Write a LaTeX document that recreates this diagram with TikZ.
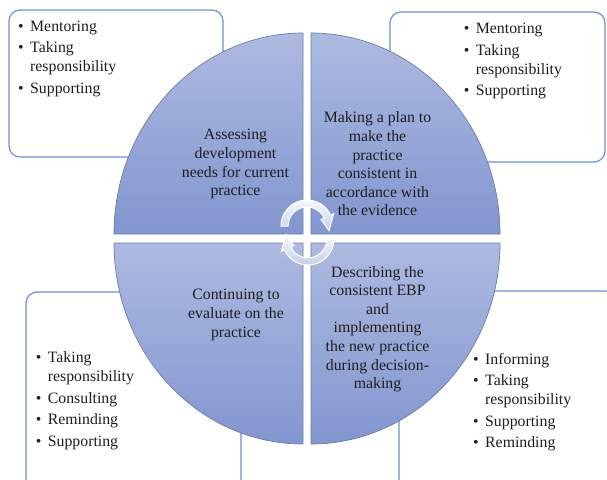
\documentclass[tikz,border=0pt]{standalone}
\usepackage{fontspec}
\setmainfont{Liberation Serif}
\definecolor{boxblue}{HTML}{6A93D4}
\definecolor{pietop}{HTML}{ADBAE1}
\definecolor{piebot}{HTML}{8296CF}
\definecolor{pieedge}{HTML}{6E7DA6}
\definecolor{ringtop}{HTML}{F6F8FC}
\definecolor{ringbot}{HTML}{C6D0E7}
\definecolor{ink}{HTML}{1E1E1E}
\tikzset{
  box/.style={draw=boxblue, line width=1.2pt, fill=white, rounded corners=11pt},
  pie/.style={draw=pieedge, line width=0.7pt, top color=pietop, bottom color=piebot},
  ring/.style={draw=white, line width=1pt, top color=ringtop, bottom color=ringbot},
  roles/.style={align=left, anchor=north west, inner sep=0pt, text=ink,
    font=\fontsize{15.8}{19}\selectfont},
  phase/.style={align=center, anchor=north, inner sep=0pt, text=ink,
    font=\fontsize{15.8}{18.6}\selectfont}
}
\newcommand{\itm}[1]{\makebox[12pt][l]{\textbullet}#1}
\newcommand{\cont}{\hspace*{12pt}}

\begin{document}
\begin{tikzpicture}[x=1pt,y=-1pt]
\newcommand{\midx}{307}
\newcommand{\midy}{238.5}
\newcommand{\gapx}{4}
\newcommand{\gapy}{4.5}
\newcommand{\radx}{189}
\newcommand{\rady}{201}

\useasboundingbox (0,0) rectangle (607,479);
\clip (0,0) rectangle (607,479);

% boxes behind the circle
\draw[box] (9,10) rectangle (223,157);
\draw[box] (390,12) rectangle (605,162);
\draw[box] (26,292) rectangle (241,492);
\draw[box] (399,291) rectangle (617,492);

% four quarters of the circle
\draw[pie] (\midx-\gapx,\midy-\gapy) -- ++(-\radx,0)
  arc[start angle=180, end angle=270, x radius=\radx, y radius=\rady] -- cycle;
\draw[pie] (\midx+\gapx,\midy-\gapy) -- ++(0,-\rady)
  arc[start angle=270, end angle=360, x radius=\radx, y radius=\rady] -- cycle;
\draw[pie] (\midx-\gapx,\midy+\gapy) -- ++(0,\rady)
  arc[start angle=90, end angle=180, x radius=\radx, y radius=\rady] -- cycle;
\draw[pie] (\midx+\gapx,\midy+\gapy) -- ++(\radx,0)
  arc[start angle=0, end angle=90, x radius=\radx, y radius=\rady] -- cycle;

% cycle arrows in the middle
\coordinate (up) at (307,226);
\coordinate (lo) at (308,239);
\draw[ring] ([shift={(180:26)}]up) arc[start angle=180, end angle=335, radius=26]
  -- ([shift={(335:29.5)}]up) -- ([shift={(12:22.5)}]up) -- ([shift={(335:15.5)}]up)
  -- ([shift={(335:19)}]up) arc[start angle=335, end angle=180, radius=19] -- cycle;
\draw[ring] ([shift={(0:26)}]lo) arc[start angle=0, end angle=155, radius=26]
  -- ([shift={(155:29.5)}]lo) -- ([shift={(192:22.5)}]lo) -- ([shift={(155:15.5)}]lo)
  -- ([shift={(155:19)}]lo) arc[start angle=155, end angle=0, radius=19] -- cycle;

% phases
\node[phase] (needs) at (235.5,129.3) {Assessing\\development\\needs for current\\practice};
\node[phase] (plan) at (377.5,111.7) {Making a plan to\\make the\\practice\\consistent in\\accordance with\\the evidence};
\node[phase] (evaluate) at (236,289.3) {Continuing to\\evaluate on the\\practice};
\node[phase] (implement) at (377.5,266) {Describing the\\consistent EBP\\and\\implementing\\the new practice\\during decision-\\making};

% roles in each phase
\node[roles] (needsroles) at (18,20.5) {\itm{Mentoring}\\[2.5pt]\itm{Taking}\\\cont responsibility\\[2.5pt]\itm{Supporting}};
\node[roles] (planroles) at (463.7,23.3) {\itm{Mentoring}\\[2.5pt]\itm{Taking}\\\cont responsibility\\[2.5pt]\itm{Supporting}};
\node[roles] (evalroles) at (35.7,351.7) {\itm{Taking}\\\cont responsibility\\[2.5pt]\itm{Consulting}\\[2.5pt]\itm{Reminding}\\[2.5pt]\itm{Supporting}};
\node[roles] (implroles) at (473,352.7) {\itm{Informing}\\[2.5pt]\itm{Taking}\\\cont responsibility\\[2.5pt]\itm{Supporting}\\[2.5pt]\itm{Reminding}};
\end{tikzpicture}
\end{document}
